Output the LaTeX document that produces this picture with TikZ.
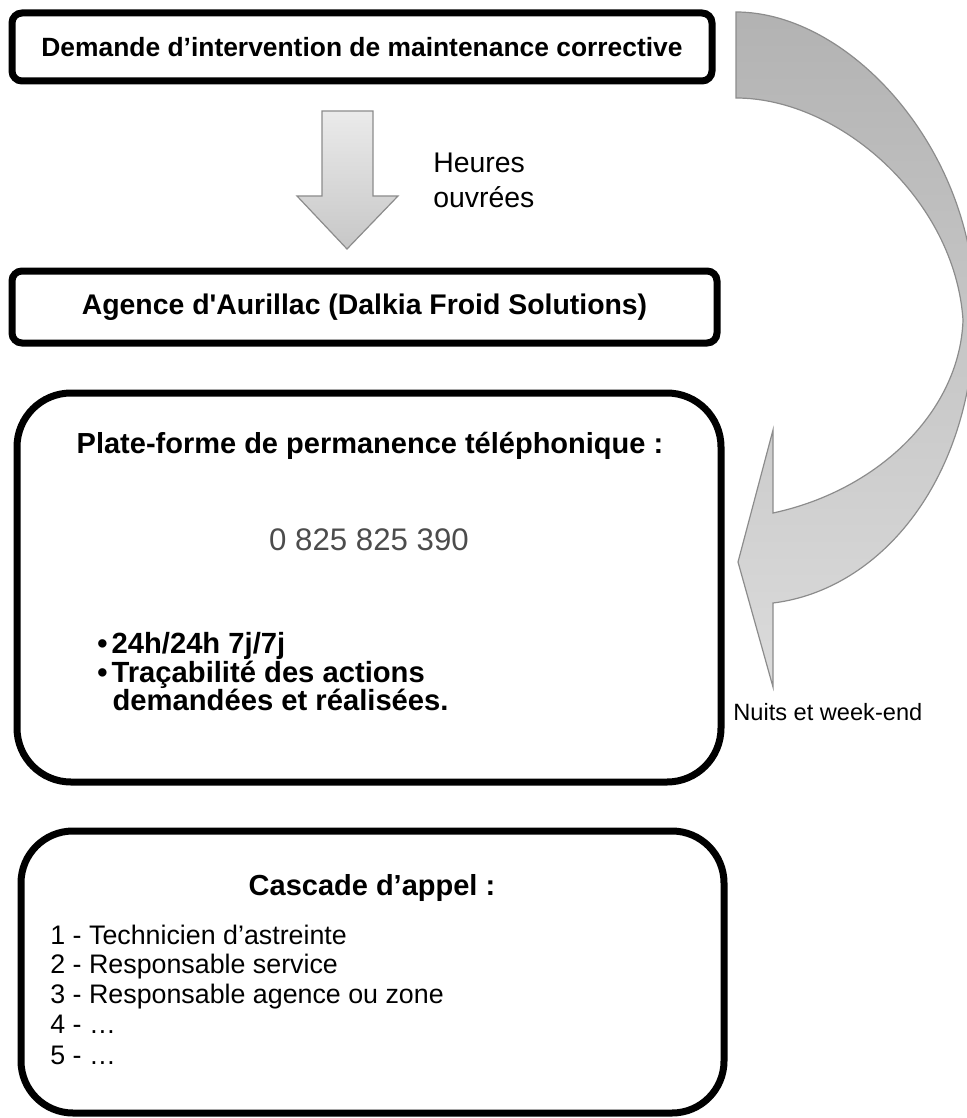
\documentclass[tikz,border=0pt]{standalone}
\usepackage{fontspec}
\setmainfont{Liberation Sans}[Ligatures=TeXOff]

\begin{document}
\begin{tikzpicture}[x=0.5pt,y=-0.5pt,
  cadre/.style={draw,line width=3.5pt,inner sep=0pt},
  bloc/.style={draw=black!45,line width=0.6pt},
  titre/.style={anchor=base,font=\bfseries\fontsize{14.5}{17}\selectfont},
  puce/.style={anchor=base west,inner sep=0pt,font=\bfseries\fontsize{14.6}{17}\selectfont},
  ligne/.style={anchor=base west,inner sep=0pt,font=\fontsize{13.4}{15}\selectfont}]
\useasboundingbox (0,0) rectangle (967,1118);
\clip (0,0) rectangle (967,1118);

% the four frames
\node[cadre,rounded corners=5pt,minimum width=350pt,minimum height=34pt,
  font=\bfseries\fontsize{13.2}{16}\selectfont] (demande) at (362,47)
  {Demande d’intervention de maintenance corrective};
\node[cadre,rounded corners=5pt,minimum width=352.5pt,minimum height=36pt,
  font=\bfseries\fontsize{14.2}{17}\selectfont] (agence) at (364.5,307)
  {Agence d'Aurillac (Dalkia Froid Solutions)};
\node[cadre,rounded corners=27pt,minimum width=352pt,minimum height=194.5pt] (plateforme) at (369,587.5) {};
\node[cadre,rounded corners=26pt,minimum width=351.5pt,minimum height=141pt] (cascade) at (372.5,972) {};

% arrows
\draw[bloc,top color=black!8,bottom color=black!22]
  (322,111) -- (373,111) -- (373,196) -- (398,196) -- (347,249) -- (297,196) -- (322,196) -- cycle;
\draw[bloc,top color=black!30,bottom color=black!14]
  (736,12) .. controls (850,12) and (975,150) .. (975,310)
  .. controls (975,480) and (880,590) .. (773,603)
  -- (773,687) -- (738,562) -- (773,430) -- (773,513)
  .. controls (880,490) and (960,410) .. (963,320)
  .. controls (955,200) and (840,98) .. (736,98) -- cycle;

% labels
\node[anchor=base west,inner sep=0pt,font=\fontsize{14.2}{17}\selectfont] (heures) at (433,173) {Heures};
\node[anchor=base west,inner sep=0pt,font=\fontsize{14.2}{17}\selectfont] (ouvrees) at (433,208) {ouvrées};
\node[anchor=base west,inner sep=0pt,font=\fontsize{11.8}{14}\selectfont] (nuits) at (733,720) {Nuits et week-end};

% phone platform
\node[titre] (platitre) at (370,453) {Plate-forme de permanence téléphonique :};
\node[anchor=base,text=black!70,font=\fontsize{15.6}{18}\selectfont] (numero) at (369,550) {0 825 825 390};
\node[puce] (heures24) at (97,653) {•\hspace{2pt}24h/24h 7j/7j};
\node[puce] (traca) at (97,682) {•\hspace{2pt}Traçabilité des actions};
\node[puce] (realise) at (97,710) {\phantom{•}\hspace{2.5pt}demandées et réalisées.};

% call cascade
\node[titre] (castitre) at (372,895) {Cascade d’appel :};
\node[ligne] (appel1) at (50,944) {1 - Technicien d’astreinte};
\node[ligne] (appel2) at (50,973) {2 - Responsable service};
\node[ligne] (appel3) at (50,1003) {3 - Responsable agence ou zone};
\node[ligne] (appel4) at (50,1033) {4 - …};
\node[ligne] (appel5) at (50,1064) {5 - …};
\end{tikzpicture}
\end{document}
